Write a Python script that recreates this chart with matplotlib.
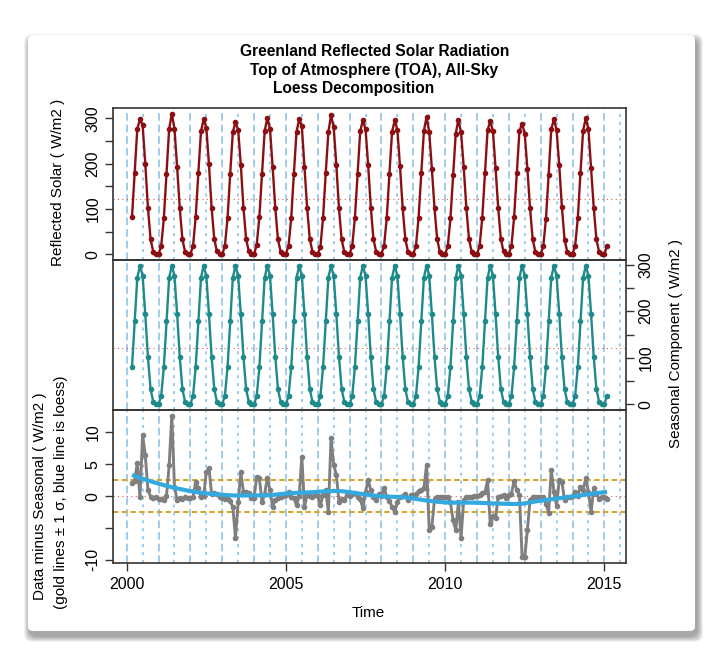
import numpy as np
import pandas as pd
import matplotlib
matplotlib.use("Agg")
import matplotlib.pyplot as plt
from matplotlib.patches import FancyBboxPatch

plt.rcParams["font.family"] = ["Liberation Sans", "DejaVu Sans"]

# seasonal component by calendar month, Jan..Dec (W/m2)
seasonal_by_month = [1, 18, 80, 178, 272, 298, 276, 194, 102, 33, 6, 0]

# data minus seasonal, monthly (Mar 2000 .. Feb 2015)
anom_2000 = [2.0, 2.4, 5.2, -0.2, 9.6, 6.4, 1.0, -0.1, -0.3, -0.2]
anom_2001 = [-0.4, -0.5, -0.6, 0.0, 4.8, 12.6, 1.5, -0.6, -0.3, -0.4, -0.2, -0.3]
anom_2002 = [-0.3, -0.1, 2.2, 1.2, -0.2, 0.0, 3.8, 4.4, 0.3, 0.5, 0.3, -0.2]
anom_2003 = [-0.3, -0.4, -0.5, -0.8, -1.7, -6.6, -1.0, 3.7, 0.7, 0.6, 0.5, -0.3]
anom_2004 = [-0.3, 3.0, 2.8, -1.0, 0.4, 2.8, 1.0, -1.7, -0.6, -0.3, -0.2, 0.0]
anom_2005 = [0.2, 0.7, -0.1, -0.3, -1.4, 0.0, 6.2, -1.7, 0.2, 0.0, -0.1, 0.2]
anom_2006 = [0.0, -1.4, 0.2, 1.0, -2.5, 9.1, 4.9, 3.3, -0.9, -0.4, -0.6, 0.1]
anom_2007 = [0.0, 0.4, 0.5, -0.2, -0.5, -1.9, 0.7, 2.5, 0.9, -0.1, -0.6, 0.3]
anom_2008 = [0.0, 1.2, -0.1, -0.8, -1.7, -2.5, -0.9, -0.1, 0.0, 0.4, -0.6, 0.1]
anom_2009 = [0.2, 0.3, 0.8, 1.0, 1.2, 4.9, -5.3, -4.8, -0.5, -0.1, -0.2, -0.1]
anom_2010 = [-0.1, -0.2, -1.0, -3.8, -5.3, -1.0, -6.5, -0.6, -0.2, -0.1, -0.2, 0.0]
anom_2011 = [0.0, 0.2, 0.5, 0.6, 2.5, -4.3, -3.2, -3.5, -0.1, 0.0, 0.1, -0.3]
anom_2012 = [0.2, 0.4, 2.4, 0.9, 0.2, -9.5, -9.6, -5.3, -0.6, -0.2, -0.2, -0.2]
anom_2013 = [-0.1, -0.2, -1.2, -2.6, 4.1, 0.7, -1.5, 2.5, 2.2, -0.6, -0.1, -0.2]
anom_2014 = [0.0, 0.7, 0.0, 1.5, 1.0, 2.8, 0.7, -2.5, 1.2, 0.4, -0.4, -0.2]
anom_2015 = [-0.2, -0.4]

years_major = list(range(2000, 2016))
xticks = [2000, 2005, 2010, 2015]

months = pd.date_range("2000-03-01", periods=180, freq="MS")
t = (months.year + (months.month - 1) / 12).to_numpy(dtype=float)
seasonal = np.array(seasonal_by_month, dtype=float)[months.month - 1]
anomaly = np.concatenate([anom_2000, anom_2001, anom_2002, anom_2003, anom_2004,
                          anom_2005, anom_2006, anom_2007, anom_2008, anom_2009,
                          anom_2010, anom_2011, anom_2012, anom_2013, anom_2014,
                          anom_2015])
reflected = seasonal + anomaly


def loess(x, y, span=0.75):
    n = len(x)
    k = int(np.ceil(span * n))
    out = np.empty(n)
    for i, x0 in enumerate(x):
        d = np.abs(x - x0)
        h = np.sort(d)[k - 1]
        w = np.clip(1 - (d / h) ** 3, 0, None) ** 3
        X = np.column_stack([np.ones(n), x - x0, (x - x0) ** 2])
        sw = np.sqrt(w)
        beta = np.linalg.lstsq(X * sw[:, None], y * sw, rcond=None)[0]
        out[i] = beta[0]
    return out


def padded(v, frac=0.04):
    r = v.max() - v.min()
    return v.min() - frac * r, v.max() + frac * r


smooth = loess(t, anomaly, span=0.36)
sigma = anomaly.std()

W, H = 725, 668
fig = plt.figure(figsize=(W / 100, H / 100), dpi=100)
fig.patch.set_facecolor("white")

# card with drop shadow
bg = fig.add_axes([0, 0, 1, 1], zorder=-5)
bg.set_xlim(0, W)
bg.set_ylim(H, 0)
bg.axis("off")
for i in range(10):
    grow = 10 - i
    bg.add_patch(FancyBboxPatch((28 + 2 - grow * 0.6, 35 + 5 - grow * 0.6),
                                667 + grow * 1.2, 596 + grow * 1.2,
                                boxstyle="round,pad=0,rounding_size=8",
                                linewidth=0, facecolor="black", alpha=0.04))
bg.add_patch(FancyBboxPatch((28, 35), 667, 596, boxstyle="round,pad=0,rounding_size=5",
                            linewidth=0, facecolor="white"))

left = 113 / W
width = (626 - 113) / W


def panel(ytop, ybot):
    return fig.add_axes([left, (H - ybot) / H, width, (ybot - ytop) / H])


ax1 = panel(108, 260)
ax2 = panel(260, 410)
ax3 = panel(410, 563)

VCOL = "#86BDE6"
FRAME = "#333333"
for ax in (ax1, ax2, ax3):
    ax.set_facecolor("none")
    for yr in years_major:
        ax.axvline(yr, color=VCOL, lw=1.1, ls=(0, (5, 2.6)), zorder=1)
        ax.axvline(yr + 0.5, color=VCOL, lw=1.1, ls=(0, (2, 3.2)), zorder=1)
    for s in ax.spines.values():
        s.set_color(FRAME)
        s.set_linewidth(1.2)
    ax.tick_params(axis="x", bottom=False, labelbottom=False)
    ax.set_xlim(*padded(t))

# top: data
ax1.axhline(reflected.mean(), color="#E05A5A", lw=0.8, ls=(0, (1, 3)), zorder=2)
ax1.plot(t, reflected, color="#8B0F12", lw=1.7, marker="o", ms=3, zorder=3)
ax1.set_ylim(*padded(reflected))
ax1.set_yticks([0, 50, 100, 150, 200, 250, 300])
ax1.set_yticklabels(["0", "", "100", "", "200", "", "300"])

# middle: seasonal
ax2.axhline(seasonal.mean(), color="#E05A5A", lw=0.8, ls=(0, (1, 3)), zorder=2)
ax2.plot(t, seasonal, color="#1E8A8A", lw=1.7, marker="o", ms=3, zorder=3)
ax2.set_ylim(*padded(seasonal))
ax2.yaxis.tick_right()
ax2.set_yticks([0, 50, 100, 150, 200, 250, 300])
ax2.set_yticklabels(["0", "", "100", "", "200", "", "300"])

# bottom: data minus seasonal
ax3.axhline(0, color="#E05A5A", lw=0.8, ls=(0, (1, 3)), zorder=2)
ax3.axhline(sigma, color="#D4A72C", lw=1.5, ls=(0, (2.6, 1.6)), zorder=2)
ax3.axhline(-sigma, color="#D4A72C", lw=1.5, ls=(0, (2.6, 1.6)), zorder=2)
ax3.plot(t, anomaly, color="#7F7F7F", lw=2.1, marker="o", ms=3, zorder=3)
ax3.plot(t, smooth, color="#33A9E0", lw=3, zorder=4, solid_capstyle="butt")
ax3.set_ylim(*padded(anomaly))
ax3.set_yticks([-10, -5, 0, 5, 10])
ax3.set_yticklabels(["-10", "", "0", "5", "10"])
ax3.set_xticks(xticks)
ax3.set_xticklabels([str(x) for x in xticks])
ax3.tick_params(axis="x", bottom=True, labelbottom=True, length=6, width=1,
                color=FRAME, labelsize=11.5, pad=4)

for ax in (ax1, ax2, ax3):
    ax.tick_params(axis="y", labelrotation=90, length=6, width=1, color=FRAME,
                   labelsize=11.5, pad=3)
    for lab in ax.get_yticklabels():
        lab.set_va("center")

# titles and labels
fig.text(375 / W, (H - 52) / H, "Greenland Reflected Solar Radiation", ha="center",
         va="center", fontsize=11.2, fontweight="bold")
fig.text(374 / W, (H - 71) / H, "Top of Atmosphere (TOA), All-Sky", ha="center",
         va="center", fontsize=11.2, fontweight="bold")
fig.text(354 / W, (H - 89) / H, "Loess Decomposition", ha="center",
         va="center", fontsize=11.2, fontweight="bold")

fig.text(58 / W, (H - 182) / H, "Reflected Solar ( W/m2 )", rotation=90,
         ha="center", va="center", fontsize=11)
fig.text(676 / W, (H - 343) / H, "Seasonal Component ( W/m2 )", rotation=90,
         ha="center", va="center", fontsize=11)
fig.text(40 / W, (H - 496) / H, "Data minus Seasonal ( W/m2 )", rotation=90,
         ha="center", va="center", fontsize=11)
fig.text(61 / W, (H - 492) / H, "(gold lines \u00b1 1 \u03c3, blue line is loess)",
         rotation=90, ha="center", va="center", fontsize=11)
fig.text(368 / W, (H - 613) / H, "Time", ha="center", va="center", fontsize=11)

fig.savefig("out.png", dpi=100)
